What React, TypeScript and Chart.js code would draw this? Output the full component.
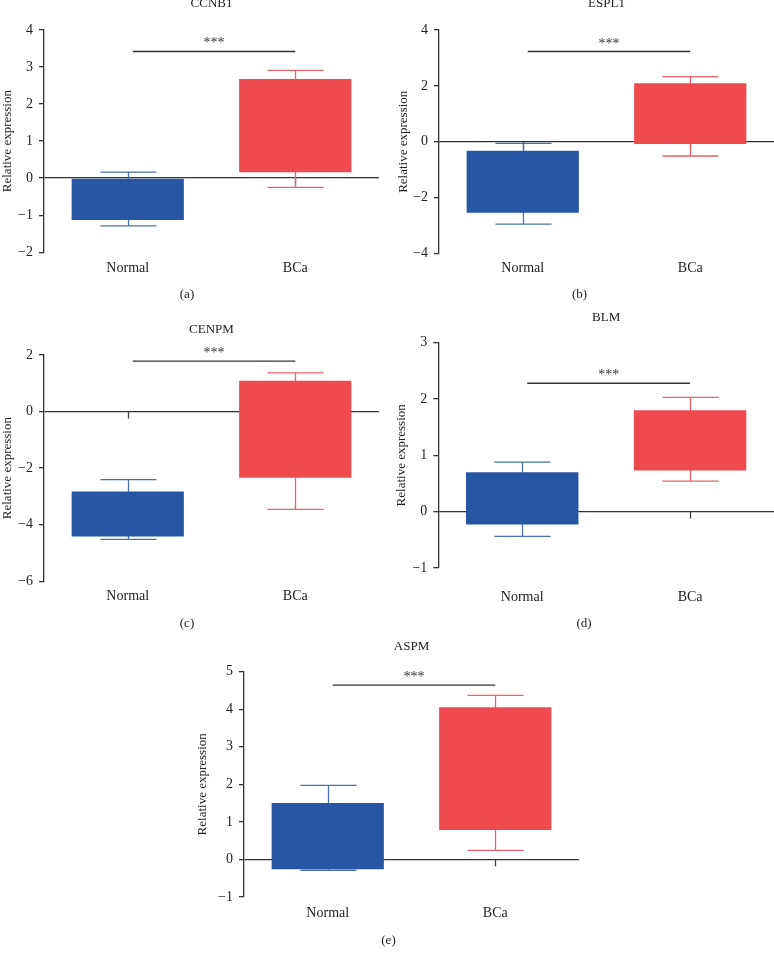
import React, { useEffect, useRef } from 'react';
import { Chart, registerables } from 'chart.js';

Chart.register(...registerables);

// ---------------- data ----------------
const categories = ['Normal', 'BCa'];
const genes = ['CCNB1', 'ESPL1', 'CENPM', 'BLM', 'ASPM'];
const panelLetters = ['(a)', '(b)', '(c)', '(d)', '(e)'];
// box [low, high]
const normalBox = [[-1.13, 0], [-2.54, -0.32], [-4.42, -2.83], [-0.23, 0.7], [-0.26, 1.5]];
const bcaBox = [[0.16, 2.68], [-0.08, 2.09], [-2.34, 1.09], [0.73, 1.8], [0.78, 4.05]];
// whisker [min, max]
const normalWhisker = [[-1.29, 0.16], [-2.95, -0.06], [-4.52, -2.41], [-0.44, 0.88], [-0.29, 1.97]];
const bcaWhisker = [[-0.25, 2.91], [-0.51, 2.33], [-3.46, 1.37], [0.54, 2.03], [0.24, 4.37]];
const sigLevel = [3.42, 3.23, 1.78, 2.28, 4.64];
const sigText = '***';
const yMin = [-2, -4, -6, -1, -1];
const yMax = [4, 4, 2, 3, 5];
const yStep = [1, 2, 2, 1, 1];
const yAxisTitle = 'Relative expression';

// ---------------- layout / style ----------------
const FONT = "'Liberation Serif', 'Times New Roman', serif";
const FS = 13; // titles
const FT = 14; // tick & category labels
const LHR = 1.2;
const LH = FS * LHR;
const LHT = FT * LHR;
const AXIS = '#333333';
const TEXT = '#222222';
const BLUE = '#2756a5';
const RED = '#ef4a50';
const BLUE_W = '#4d70ad';
const RED_W = '#e8636b';

const layouts = [
  { chartLeft: 44, chartRight: 379, chartTop: 30, chartBottom: 252, titleY: 3.8, labelY: 268, subX: 187, subY: 294, yTitleX: 7.3 },
  { chartLeft: 439, chartRight: 774, chartTop: 30, chartBottom: 253.3, titleY: 3.8, labelY: 268, subX: 579.3, subY: 294, yTitleX: 403.3 },
  { chartLeft: 44, chartRight: 379, chartTop: 355, chartBottom: 580.7, titleY: 329.5, labelY: 596, subX: 187, subY: 622.7, yTitleX: 7.3 },
  { chartLeft: 438.3, chartRight: 774, chartTop: 342.7, chartBottom: 567.7, titleY: 317.5, labelY: 597, subX: 584, subY: 623, yTitleX: 401.7 },
  { chartLeft: 244, chartRight: 579, chartTop: 671.7, chartBottom: 896.7, titleY: 646.7, labelY: 913, subX: 388.3, subY: 940, yTitleX: 202.7 },
];

function computeGeom(i: number) {
  const L = layouts[i];
  const left = Math.round(2 * L.subX - L.chartRight);
  const top = Math.round(L.titleY - LH / 2);
  const width = Math.round(L.chartRight - left);
  const titlePadTop = Math.max(0, L.titleY - top - LH / 2);
  const titlePadBottom = L.chartTop - top - titlePadTop - LH;
  const yWidth = L.chartLeft - left;
  const yTitlePad = L.yTitleX - left - LH / 2;
  const xPad = L.labelY - L.chartBottom - LHT / 2;
  const xHeight = L.labelY - L.chartBottom + LHT / 2;
  const subBoxTop = L.chartBottom + xHeight;
  const subPadTop = L.subY - subBoxTop - LH / 2;
  const subPadBottom = 2;
  const height = Math.round(subBoxTop + subPadTop + LH + subPadBottom - top);
  return { left, top, width, height, titlePadTop, titlePadBottom, yWidth, yTitlePad, xPad, xHeight, subPadTop, subPadBottom };
}

const fmt = (v: number) => (v < 0 ? '\u2212' + Math.abs(v) : String(v));

function Panel({ idx }: { idx: number }) {
  const ref = useRef<HTMLCanvasElement | null>(null);
  const g = computeGeom(idx);

  useEffect(() => {
    if (!ref.current) return;
    const whiskers = [normalWhisker[idx], bcaWhisker[idx]];
    const whiskerColors = [BLUE_W, RED_W];
    const font = { family: FONT, size: FS, weight: 'normal' as const, lineHeight: LHR };
    const tickFont = { family: FONT, size: FT, weight: 'normal' as const, lineHeight: LHR };

    const decor = {
      id: 'decor' + idx,
      beforeDatasetsDraw(chart: any) {
        const { ctx, scales } = chart;
        const x = scales.x;
        const y = scales.y;
        const meta = chart.getDatasetMeta(0);
        const y0 = y.getPixelForValue(0);
        ctx.save();
        // small tick marks on the zero line
        ctx.strokeStyle = '#444444';
        ctx.lineWidth = 1.3;
        categories.forEach((_c, i) => {
          const px = Math.round(x.getPixelForValue(i)) + 0.5;
          ctx.beginPath();
          ctx.moveTo(px, y0);
          ctx.lineTo(px, y0 + 7);
          ctx.stroke();
        });
        // whiskers
        whiskers.forEach((w, i) => {
          const bar = meta.data[i];
          const p = bar.getProps(['x', 'width'], true);
          const cx = Math.round(p.x) + 0.5;
          const half = p.width / 4;
          const yt = y.getPixelForValue(w[1]);
          const yb = y.getPixelForValue(w[0]);
          ctx.strokeStyle = whiskerColors[i];
          ctx.lineWidth = 1.3;
          ctx.beginPath();
          ctx.moveTo(cx, yt);
          ctx.lineTo(cx, yb);
          ctx.moveTo(cx - half, yt);
          ctx.lineTo(cx + half, yt);
          ctx.moveTo(cx - half, yb);
          ctx.lineTo(cx + half, yb);
          ctx.stroke();
        });
        ctx.restore();
      },
      afterDatasetsDraw(chart: any) {
        const { ctx, scales } = chart;
        const x = scales.x;
        const y = scales.y;
        const ys = y.getPixelForValue(sigLevel[idx]);
        const x1 = x.getPixelForValue(0) + 5;
        const x2 = x.getPixelForValue(1);
        ctx.save();
        ctx.strokeStyle = AXIS;
        ctx.lineWidth = 1.3;
        ctx.beginPath();
        ctx.moveTo(x1, ys);
        ctx.lineTo(x2, ys);
        ctx.stroke();
        ctx.fillStyle = AXIS;
        ctx.font = `14px ${FONT}`;
        ctx.textAlign = 'center';
        ctx.textBaseline = 'alphabetic';
        ctx.fillText(sigText, (x1 + x2) / 2, ys - 4);
        ctx.restore();
      },
    };

    const chart = new Chart(ref.current, {
      type: 'bar',
      data: {
        labels: categories,
        datasets: [
          {
            data: [normalBox[idx], bcaBox[idx]] as any,
            backgroundColor: [BLUE, RED],
            borderWidth: 0,
            categoryPercentage: 1,
            barPercentage: 0.67,
          },
        ],
      },
      options: {
        responsive: false,
        animation: false,
        devicePixelRatio: 1,
        layout: { padding: 0 },
        plugins: {
          legend: { display: false },
          tooltip: { enabled: false },
          title: {
            display: true,
            text: genes[idx],
            fullSize: false,
            color: TEXT,
            font,
            padding: { top: g.titlePadTop, bottom: g.titlePadBottom },
          },
          subtitle: {
            display: true,
            text: panelLetters[idx],
            position: 'bottom',
            color: TEXT,
            font,
            padding: { top: g.subPadTop, bottom: g.subPadBottom },
          },
        },
        scales: {
          x: {
            grid: { display: false, drawTicks: false },
            border: { display: false },
            ticks: { padding: g.xPad, color: TEXT, font: tickFont },
            afterFit: (s: any) => {
              s.height = g.xHeight;
            },
          },
          y: {
            min: yMin[idx],
            max: yMax[idx],
            ticks: { stepSize: yStep[idx], padding: 6, color: TEXT, font: tickFont, callback: (v: any) => fmt(Number(v)) },
            grid: {
              color: (c: any) => (c.tick && c.tick.value === 0 ? AXIS : 'rgba(0,0,0,0)'),
              tickColor: AXIS,
              tickLength: 5,
              lineWidth: 1.3,
              drawOnChartArea: true,
            },
            border: { display: true, color: AXIS, width: 1.3 },
            title: {
              display: true,
              text: yAxisTitle,
              color: TEXT,
              font,
              padding: { top: g.yTitlePad, bottom: 0 },
            },
            afterFit: (s: any) => {
              s.width = g.yWidth;
            },
          },
        },
      },
      plugins: [decor],
    } as any);
    return () => chart.destroy();
  }, [idx]);

  return (
    <canvas
      ref={ref}
      width={g.width}
      height={g.height}
      style={{ position: 'absolute', left: g.left, top: g.top, width: g.width, height: g.height, display: 'block' }}
    />
  );
}

export default function App() {
  return (
    <div style={{ position: 'absolute', left: 0, top: 0, width: 774, height: 956, overflow: 'hidden', background: '#ffffff' }}>
      {genes.map((_g, i) => (
        <Panel key={i} idx={i} />
      ))}
    </div>
  );
}
